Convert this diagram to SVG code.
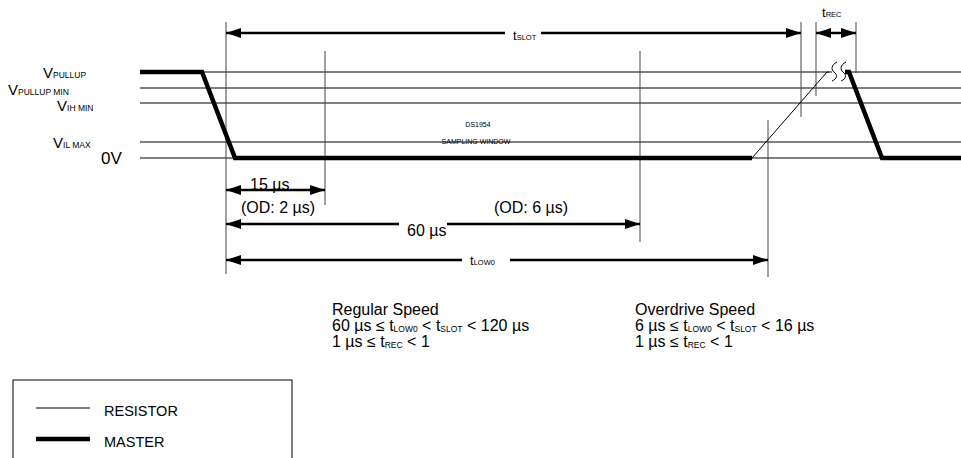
<svg xmlns="http://www.w3.org/2000/svg" width="961" height="458" viewBox="0 0 961 458">
<style>
text{font-family:"Liberation Sans",Arial,sans-serif;fill:#000}
.lv{font-size:15px}
.sb{font-size:8.5px}
.big{font-size:16px}
.t{font-size:13px}
.ts{font-size:7.5px}
.tiny{font-size:7px}
.thin{stroke:#000;stroke-width:1;fill:none}
.vert{stroke:#444;stroke-width:1;fill:none}
.thick{stroke:#000;stroke-width:4.5;fill:none;stroke-linejoin:miter}
.arr{stroke:#000;stroke-width:2.5;fill:none}
</style>
<defs>
<marker id="ah" viewBox="0 0 15 10" refX="15" refY="5" markerWidth="15" markerHeight="10" markerUnits="userSpaceOnUse" orient="auto-start-reverse">
<path d="M0,0 L15,5 L0,10 Z" fill="#000"/>
</marker>
</defs>
<rect width="961" height="458" fill="#fff"/>

<g id="levels">
<line class="thin" x1="140" y1="72" x2="829" y2="72"/>
<line class="thin" x1="846" y1="72" x2="961" y2="72"/>
<line class="thin" x1="140" y1="88" x2="961" y2="88"/>
<line class="thin" x1="140" y1="103" x2="961" y2="103"/>
<line class="thin" x1="140" y1="142" x2="961" y2="142"/>
<line class="thin" x1="140" y1="158" x2="961" y2="158"/>
</g>

<g id="level-labels">
<text class="lv" x="43" y="78">V<tspan class="sb">PULLUP</tspan></text>
<text class="lv" x="8" y="95">V<tspan class="sb">PULLUP MIN</tspan></text>
<text class="lv" x="57" y="111">V<tspan class="sb">IH MIN</tspan></text>
<text class="lv" x="53" y="148">V<tspan class="sb">IL MAX</tspan></text>
<text class="lv" x="101" y="164" style="font-size:17px">0V</text>
</g>

<g id="guides">
<line class="vert" x1="226" y1="22" x2="226" y2="274"/>
<line class="vert" x1="325" y1="51" x2="325" y2="205"/>
<line class="vert" x1="640" y1="51" x2="640" y2="242"/>
<line class="vert" x1="768" y1="120" x2="768" y2="277"/>
<line class="vert" x1="801" y1="22" x2="801" y2="117"/>
<line class="vert" x1="816" y1="22" x2="816" y2="96"/>
<line class="vert" x1="856" y1="22" x2="856" y2="73"/>
</g>

<g id="waveform">
<polyline class="thick" points="140,72 202,72 235,158 752,158"/>
<polyline class="thin" points="752,158 827,72 832,72"/>
<path class="thin" d="M837,62 C831,65 831,70 834,72 C838,75 837,79 832,81"/>
<path class="thin" d="M846,62 C840,65 840,70 843,72 C847,75 846,79 841,81"/>
<polyline class="thick" points="845,72 849,72 882,158 961,158"/>
</g>

<g id="dimensions">
<line class="arr" x1="226" y1="33" x2="505" y2="33" marker-start="url(#ah)"/>
<line class="arr" x1="541" y1="33" x2="801" y2="33" marker-end="url(#ah)"/>
<text class="t" x="513" y="40">t<tspan class="ts">SLOT</tspan></text>

<line class="arr" x1="816" y1="33" x2="856" y2="33" marker-start="url(#ah)" marker-end="url(#ah)"/>
<text class="t" x="822" y="17">t<tspan class="ts">REC</tspan></text>

<line class="arr" x1="226" y1="190" x2="325" y2="190" marker-start="url(#ah)" marker-end="url(#ah)"/>
<text class="big" x="250" y="190">15 µs</text>
<text class="big" x="241" y="213">(OD: 2 µs)</text>
<text class="big" x="494" y="213">(OD: 6 µs)</text>

<line class="arr" x1="226" y1="224" x2="399" y2="224" marker-start="url(#ah)"/>
<line class="arr" x1="447" y1="224" x2="640" y2="224" marker-end="url(#ah)"/>
<text class="big" x="407" y="236">60 µs</text>

<line class="arr" x1="226" y1="260" x2="462" y2="260" marker-start="url(#ah)"/>
<line class="arr" x1="510" y1="260" x2="768" y2="260" marker-end="url(#ah)"/>
<text class="t" x="470" y="265">t<tspan class="ts">LOW0</tspan></text>
</g>

<g id="sampling">
<text class="tiny" x="478" y="127" text-anchor="middle">DS1954</text>
<text class="tiny" x="476" y="144" text-anchor="middle">SAMPLING WINDOW</text>
</g>

<g id="regular-speed">
<text class="big" x="332" y="315">Regular Speed</text>
<text class="big" x="332" y="331">60 µs ≤ t<tspan class="sb" dy="0.5">LOW0</tspan><tspan dy="-0.5"> &lt; t</tspan><tspan class="sb" dy="0.5">SLOT</tspan><tspan dy="-0.5"> &lt; 120 µs</tspan></text>
<text class="big" x="332" y="347">1 µs ≤ t<tspan class="sb" dy="0.5">REC</tspan><tspan dy="-0.5"> &lt; 1</tspan></text>
</g>

<g id="overdrive-speed">
<text class="big" x="635" y="315">Overdrive Speed</text>
<text class="big" x="635" y="331">6 µs ≤ t<tspan class="sb" dy="0.5">LOW0</tspan><tspan dy="-0.5"> &lt; t</tspan><tspan class="sb" dy="0.5">SLOT</tspan><tspan dy="-0.5"> &lt; 16 µs</tspan></text>
<text class="big" x="635" y="347">1 µs ≤ t<tspan class="sb" dy="0.5">REC</tspan><tspan dy="-0.5"> &lt; 1</tspan></text>
</g>

<g id="legend">
<rect x="13" y="380" width="279" height="100" fill="none" stroke="#000" stroke-width="1"/>
<line class="thin" x1="36" y1="408" x2="90" y2="408"/>
<line class="thick" x1="36" y1="439" x2="90" y2="439"/>
<text class="big" x="104" y="416" style="font-size:14.5px">RESISTOR</text>
<text class="big" x="104" y="447" style="font-size:14.5px">MASTER</text>
</g>
</svg>
